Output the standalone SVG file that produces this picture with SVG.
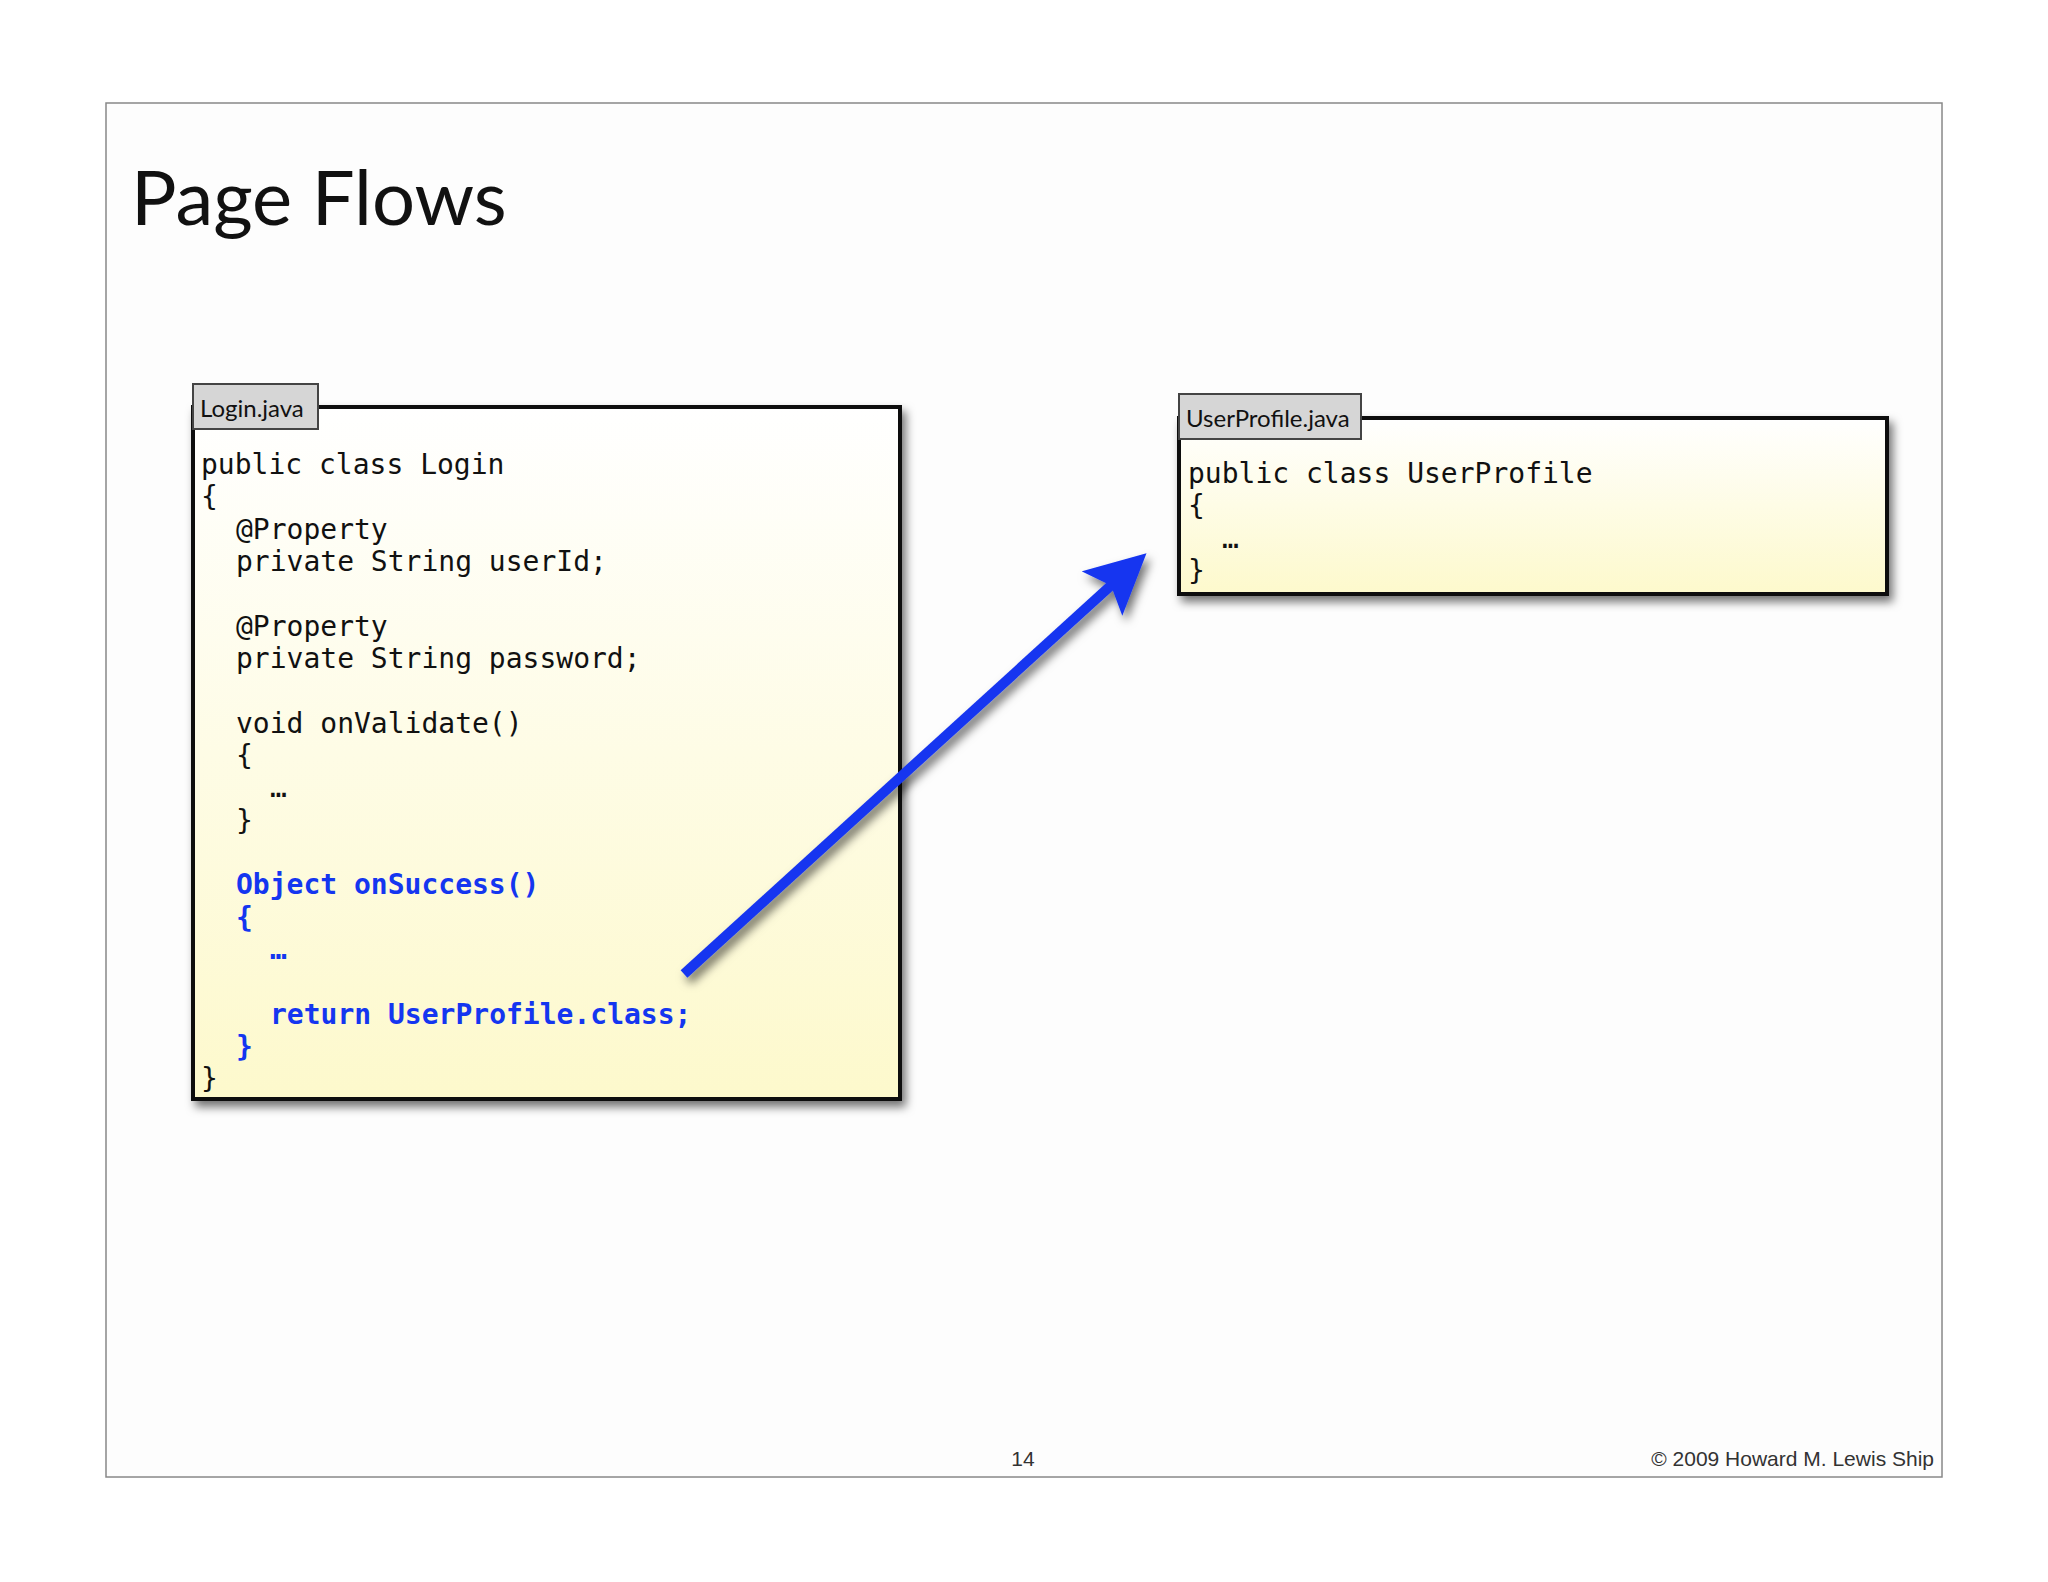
<svg xmlns="http://www.w3.org/2000/svg" width="2048" height="1582" viewBox="0 0 2048 1582">
<style>
.code{font-family:"DejaVu Sans Mono","Liberation Mono",monospace;font-size:28px;fill:#111}
.blue{fill:#1436f0;font-weight:bold}
.tab{fill:#d6d6d6;stroke:#444;stroke-width:2}
.tabt{font-family:"Lato","Open Sans",sans-serif;font-size:24px;fill:#111}
.box{fill:url(#yg);stroke:#111;stroke-width:4;filter:url(#sh)}
</style>
<defs>
<linearGradient id="yg" x1="0" y1="0" x2="0" y2="1"><stop offset="0" stop-color="#ffffff"/><stop offset="1" stop-color="#fdf9cc"/></linearGradient>
<filter id="sh" x="-5%" y="-5%" width="115%" height="115%"><feDropShadow dx="4" dy="6" stdDeviation="5" flood-color="#000" flood-opacity="0.55"/></filter>
<marker id="ah" markerWidth="6" markerHeight="6" refX="3.5" refY="3" orient="auto" markerUnits="strokeWidth"><path d="M0,0 L6,3 L0,6 L1.2,3 Z" fill="#1436f0"/></marker>
</defs>
<rect width="2048" height="1582" fill="#fff"/>
<rect x="106" y="103" width="1836" height="1374" fill="#fdfdfd" stroke="#888" stroke-width="1.5"/>
<text x="131" y="225" font-family="Lato,'Open Sans',sans-serif" font-size="76" fill="#111">Page Flows</text>
<g id="login">
<rect class="box" x="193" y="407" width="707" height="692"/>
<rect class="tab" x="193" y="384" width="125" height="45"/>
<text class="tabt" x="200" y="417">Login.java</text>
<text class="code" x="201">
<tspan x="201" y="474">public class Login</tspan>
<tspan x="201" y="506">{</tspan>
<tspan x="236" y="539">@Property</tspan>
<tspan x="236" y="571">private String userId;</tspan>
<tspan x="236" y="636">@Property</tspan>
<tspan x="236" y="668">private String password;</tspan>
<tspan x="236" y="733">void onValidate()</tspan>
<tspan x="236" y="765">{</tspan>
<tspan x="270" y="797">…</tspan>
<tspan x="236" y="830">}</tspan>
</text>
<text class="code blue">
<tspan x="236" y="894">Object onSuccess()</tspan>
<tspan x="236" y="927">{</tspan>
<tspan x="270" y="959">…</tspan>
<tspan x="270" y="1024">return UserProfile.class;</tspan>
<tspan x="236" y="1056">}</tspan>
</text>
<text class="code" x="201" y="1088">}</text>
</g>
<g id="userprofile">
<rect class="box" x="1179" y="418" width="708" height="176"/>
<rect class="tab" x="1179" y="394" width="182" height="45"/>
<text class="tabt" x="1186" y="427">UserProfile.java</text>
<text class="code">
<tspan x="1188" y="483">public class UserProfile</tspan>
<tspan x="1188" y="515">{</tspan>
<tspan x="1222" y="548">…</tspan>
<tspan x="1188" y="580">}</tspan>
</text>
</g>
<g id="connectors">
<line x1="684" y1="974" x2="1128" y2="570" stroke="#1436f0" stroke-width="10" marker-end="url(#ah)" filter="url(#sh)"/>
</g>
<text x="1023" y="1466" text-anchor="middle" font-family="'Liberation Sans',sans-serif" font-size="21" fill="#333">14</text>
<text x="1934" y="1466" text-anchor="end" font-family="'Liberation Sans',sans-serif" font-size="21" fill="#333">© 2009 Howard M. Lewis Ship</text>
</svg>
